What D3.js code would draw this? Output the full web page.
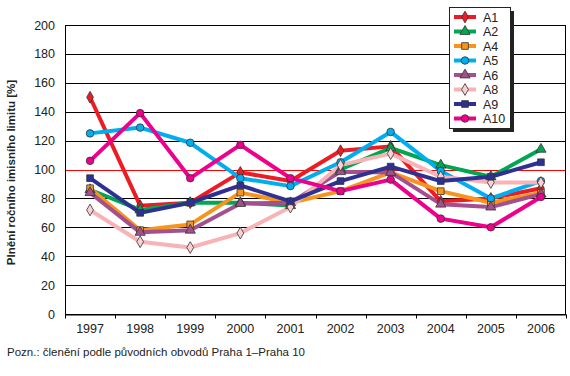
<!DOCTYPE html>
<html>
<head>
<meta charset="utf-8">
<script src="https://cdn.jsdelivr.net/npm/d3@7"></script>
<style>
  body { margin: 0; background: #fff; }
  text { font-family: "Liberation Sans", Arial, sans-serif; fill: #222; }
</style>
</head>
<body>
<svg id="chart" width="570" height="376"></svg>
<script>
// data
const years = ["1997","1998","1999","2000","2001","2002","2003","2004","2005","2006"];
const seriesNames = ["A1","A2","A4","A5","A6","A8","A9","A10"];
const a1  = [150, 75, 77, 98, 92, 113, 116, 78, 80, 87];
const a2  = [86, 72, 77, 77, 75, 100, 115, 103, 95, 114];
const a4  = [87, 58, 62, 84, 77, 85, 98, 85, 77, 84];
const a5  = [125, 129, 118.5, 94, 88.5, 105, 126, 99, 80, 92];
const a6  = [84, 56.5, 58, 76.5, 77, 98.5, 98, 76, 74, 83];
const a8  = [72, 50, 46, 56, 74, 103, 111, 95, 91, 91];
const a9  = [94, 70, 77, 89, 78, 92, 102, 92, 95, 105];
const a10 = [106, 139, 94, 117, 94, 85, 93, 66, 60, 81];
const yTicks = [0, 20, 40, 60, 80, 100, 120, 140, 160, 180, 200];
const limit = 100;

const values = [a1, a2, a4, a5, a6, a8, a9, a10];
const colors = ["#ed1c24", "#00a651", "#f7941d", "#00aeef", "#a3508f", "#f7b3b5", "#2e3192", "#ec008c"];
const symbols = [d3.symbolDiamond, d3.symbolTriangle, d3.symbolSquare, d3.symbolCircle,
                 d3.symbolTriangle, d3.symbolDiamond, d3.symbolSquare, d3.symbolCircle];
const markFill = ["#ed1c24", "#00a651", "#f7941d", "#00aeef", "#a3508f", "#fbd0d2", "#2e3192", "#ec008c"];

const svg = d3.select("#chart");
const margin = {top: 25, right: 4, bottom: 62, left: 65};
const W = 570, H = 376;

const x = d3.scaleBand().domain(years).range([margin.left, W - margin.right]).padding(0);
const y = d3.scaleLinear().domain([0, 200]).range([H - margin.bottom, margin.top]);

// grid
svg.append("g").selectAll("line")
  .data(yTicks.filter(d => d !== limit))
  .join("line")
  .attr("x1", margin.left).attr("x2", W - margin.right)
  .attr("y1", d => Math.round(y(d)) + 0.5).attr("y2", d => Math.round(y(d)) + 0.5)
  .attr("stroke", "#000").attr("stroke-width", 1);

svg.append("line")
  .attr("x1", margin.left).attr("x2", W - margin.right)
  .attr("y1", Math.round(y(limit)) + 0.5).attr("y2", Math.round(y(limit)) + 0.5)
  .attr("stroke", "#ff0000").attr("stroke-width", 1);

// frame
svg.append("line")
  .attr("x1", margin.left + 0.5).attr("x2", margin.left + 0.5)
  .attr("y1", y(200)).attr("y2", y(0)).attr("stroke", "#000");
svg.append("line")
  .attr("x1", W - margin.right - 0.5).attr("x2", W - margin.right - 0.5)
  .attr("y1", y(200)).attr("y2", y(0)).attr("stroke", "#000");

// y labels
svg.append("g").selectAll("text")
  .data(yTicks)
  .join("text")
  .attr("x", 55).attr("y", d => y(d)).attr("dy", "0.36em")
  .attr("text-anchor", "end").attr("font-size", 12.5)
  .text(d => d);

// x axis
const xAxis = d3.axisBottom(x).tickSize(0).tickPadding(10);
const gx = svg.append("g")
  .attr("transform", "translate(0," + (Math.round(y(0)) + 0.5) + ")")
  .call(xAxis);
gx.select(".domain").attr("stroke", "#000");
gx.selectAll("text").attr("font-size", 12.5).attr("font-family", "Liberation Sans, Arial, sans-serif").attr("fill", "#222");
gx.append("g").selectAll("line")
  .data(d3.range(years.length + 1))
  .join("line")
  .attr("x1", i => Math.round(margin.left + i * x.bandwidth()) + 0.5)
  .attr("x2", i => Math.round(margin.left + i * x.bandwidth()) + 0.5)
  .attr("y1", 0).attr("y2", 4)
  .attr("stroke", "#000");

// y title
svg.append("text")
  .attr("transform", "translate(15," + (y(100) + 3) + ") rotate(-90)")
  .attr("text-anchor", "middle")
  .attr("font-size", 11.5).attr("font-weight", "bold")
  .attr("fill", "#333")
  .text("Plnění ročního imisního limitu [%]");

// note
svg.append("text")
  .attr("x", 7).attr("y", 356)
  .attr("font-size", 11.5)
  .text("Pozn.: členění podle původních obvodů Praha 1–Praha 10");

// lines
const line = d3.line()
  .x((d, i) => x(years[i]) + x.bandwidth() / 2)
  .y(d => y(d));

const sym = d3.symbol();

values.forEach((vals, k) => {
  svg.append("path")
    .datum(vals)
    .attr("d", line)
    .attr("fill", "none")
    .attr("stroke", colors[k])
    .attr("stroke-width", 4)
    .attr("stroke-linejoin", "round");
});

values.forEach((vals, k) => {
  svg.append("g").selectAll("path")
    .data(vals)
    .join("path")
    .attr("transform", (d, i) => "translate(" + (x(years[i]) + x.bandwidth() / 2) + "," + y(d) + ")")
    .attr("d", sym.type(symbols[k]).size(symbols[k] === d3.symbolDiamond ? 40 : 45)())
    .attr("fill", markFill[k])
    .attr("stroke", "#333")
    .attr("stroke-width", 0.8);
});

// legend
const lg = svg.append("g").attr("transform", "translate(449,7)");
lg.append("rect").attr("x", 4).attr("y", 4).attr("width", 61).attr("height", 121).attr("fill", "#222");
lg.append("rect").attr("x", 0.5).attr("y", 0.5).attr("width", 61).attr("height", 121)
  .attr("fill", "#fff").attr("stroke", "#222");
seriesNames.forEach((name, k) => {
  const cy = 10 + k * 14.5;
  lg.append("line").attr("x1", 5).attr("x2", 27).attr("y1", cy).attr("y2", cy)
    .attr("stroke", colors[k]).attr("stroke-width", 4);
  lg.append("path")
    .attr("transform", "translate(16," + cy + ")")
    .attr("d", sym.type(symbols[k]).size(symbols[k] === d3.symbolDiamond ? 40 : 45)())
    .attr("fill", markFill[k]).attr("stroke", "#333").attr("stroke-width", 0.8);
  lg.append("text").attr("x", 34).attr("y", cy).attr("dy", "0.36em")
    .attr("font-size", 12.5).text(name);
});
</script>
</body>
</html>
